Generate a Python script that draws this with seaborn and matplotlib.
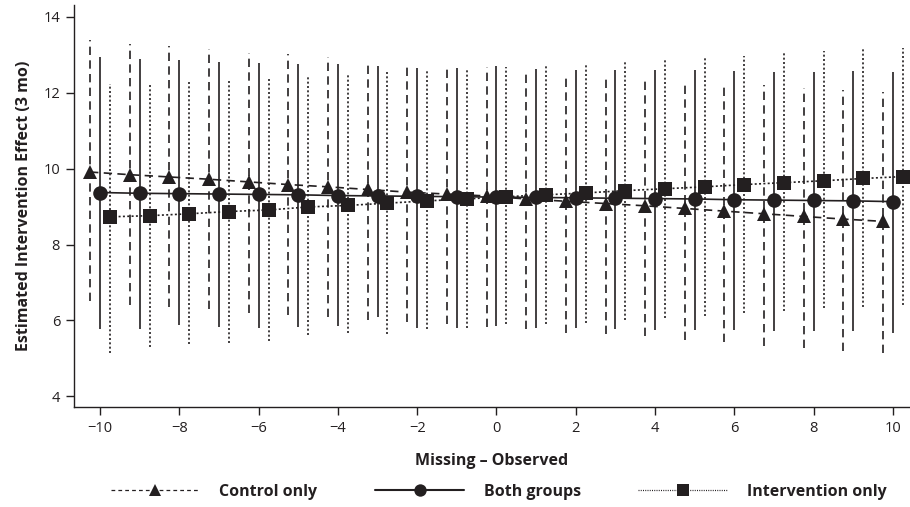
import numpy as np
import pandas as pd
import matplotlib
matplotlib.use("Agg")
import matplotlib.pyplot as plt
from matplotlib.lines import Line2D
import seaborn as sns

# ---- data ----
x_vals = list(range(-10, 11))

control_mean = [9.91, 9.84, 9.78, 9.72, 9.65, 9.58, 9.52, 9.45, 9.38, 9.33, 9.28,
                9.20, 9.14, 9.08, 9.02, 8.95, 8.88, 8.81, 8.74, 8.67, 8.61]
control_low = [6.50, 6.41, 6.35, 6.29, 6.20, 6.14, 6.09, 6.02, 5.96, 5.91, 5.84,
               5.77, 5.67, 5.65, 5.59, 5.49, 5.44, 5.34, 5.27, 5.20, 5.14]
control_high = [13.39, 13.29, 13.22, 13.16, 13.04, 13.02, 12.94, 12.84, 12.77, 12.70, 12.68,
                12.52, 12.46, 12.46, 12.37, 12.31, 12.26, 12.20, 12.13, 12.08, 12.02]

both_mean = [9.37, 9.35, 9.34, 9.33, 9.32, 9.31, 9.29, 9.28, 9.27, 9.26, 9.25,
             9.24, 9.23, 9.22, 9.21, 9.20, 9.18, 9.17, 9.16, 9.15, 9.13]
both_low = [5.77, 5.77, 5.88, 5.84, 5.81, 5.84, 5.86, 6.10, 5.80, 5.80, 5.86,
            5.81, 5.81, 5.78, 5.75, 5.75, 5.75, 5.71, 5.73, 5.71, 5.67]
both_high = [12.93, 12.88, 12.86, 12.82, 12.79, 12.76, 12.76, 12.71, 12.66, 12.66, 12.70,
             12.62, 12.61, 12.60, 12.61, 12.60, 12.57, 12.55, 12.55, 12.58, 12.55]

interv_mean = [8.73, 8.76, 8.81, 8.87, 8.91, 8.99, 9.03, 9.09, 9.15, 9.20, 9.26,
               9.31, 9.36, 9.42, 9.47, 9.52, 9.58, 9.63, 9.68, 9.74, 9.79]
interv_low = [5.15, 5.31, 5.38, 5.40, 5.47, 5.62, 5.68, 5.65, 5.77, 5.81, 5.90,
              5.90, 5.94, 6.02, 6.06, 6.13, 6.19, 6.24, 6.32, 6.35, 6.41]
interv_high = [12.22, 12.26, 12.30, 12.33, 12.37, 12.42, 12.49, 12.55, 12.57, 12.61, 12.68,
               12.70, 12.75, 12.83, 12.86, 12.93, 12.96, 13.04, 13.11, 13.14, 13.19]

series_names = ["Control only", "Both groups", "Intervention only"]
x_ticks = [-10, -8, -6, -4, -2, 0, 2, 4, 6, 8, 10]
y_ticks = [4, 6, 8, 10, 12, 14]

# ---- styling ----
sns.set_theme(style="ticks")
plt.rcParams["font.family"] = ["Open Sans", "DejaVu Sans"]
ink = "#231f20"

fig = plt.figure(figsize=(9.10, 5.07), dpi=100)
ax = fig.add_axes([74 / 910, 1 - 407 / 507, 1 - 74 / 910, (407 - 5) / 507])

xs = np.array(x_vals, dtype=float)
specs = [
    (series_names[0], control_mean, control_low, control_high, -0.25, "^", 10.5, (0, (5.0, 3.2))),
    (series_names[1], both_mean, both_low, both_high, 0.0, "o", 10.5, "-"),
    (series_names[2], interv_mean, interv_low, interv_high, 0.25, "s", 10.0, (0, (1.2, 1.4))),
]

handles = []
for name, m, lo, hi, off, mk, ms, ls in specs:
    xx = xs + off
    ax.vlines(xx, lo, hi, colors=ink, linestyles=[ls], linewidth=1.2, zorder=2)
    df = pd.DataFrame({"x": xx, "y": m})
    sns.lineplot(data=df, x="x", y="y", ax=ax, color=ink, marker=mk,
                 markersize=ms, markeredgewidth=0, linestyle=ls, linewidth=1.2,
                 zorder=3, legend=False)
    hls = ls
    if ls != "-":
        hls = (0, (3.0, 2.5)) if mk == "^" else (0, (0.8, 1.0))
    handles.append(Line2D([], [], color=ink, marker=mk, markersize=ms * 0.85,
                          markeredgewidth=0, linestyle=hls,
                          linewidth=1.5 if ls == "-" else 0.9, label=name))

ax.set_xlim(-10.656, 10.43)
ax.set_ylim(3.72, 14.31)
ax.set_xticks(x_ticks)
ax.set_xticklabels([("\u2212" + str(abs(v))) if v < 0 else str(v) for v in x_ticks])
ax.set_yticks(y_ticks)
ax.tick_params(axis="both", labelsize=10.5, colors=ink, length=6, width=1.0, pad=4)
for s in ["top", "right"]:
    ax.spines[s].set_visible(False)
for s in ["left", "bottom"]:
    ax.spines[s].set_color(ink)
    ax.spines[s].set_linewidth(1.0)

ax.set_xlabel("Missing \u2013 Observed", fontsize=11.5, fontweight="bold", color=ink, labelpad=12)
ax.set_ylabel("Estimated Intervention Effect (3 mo)", fontsize=11.5, fontweight="bold",
              color=ink, labelpad=8)

leg = fig.legend(handles=handles, loc="center", bbox_to_anchor=(0.548, 0.03), ncol=3,
                 frameon=False, handlelength=5.6, handletextpad=1.2, columnspacing=3.6,
                 prop={"weight": "bold", "size": 11.5})
for t in leg.get_texts():
    t.set_color(ink)

fig.savefig("out.png", dpi=100)
